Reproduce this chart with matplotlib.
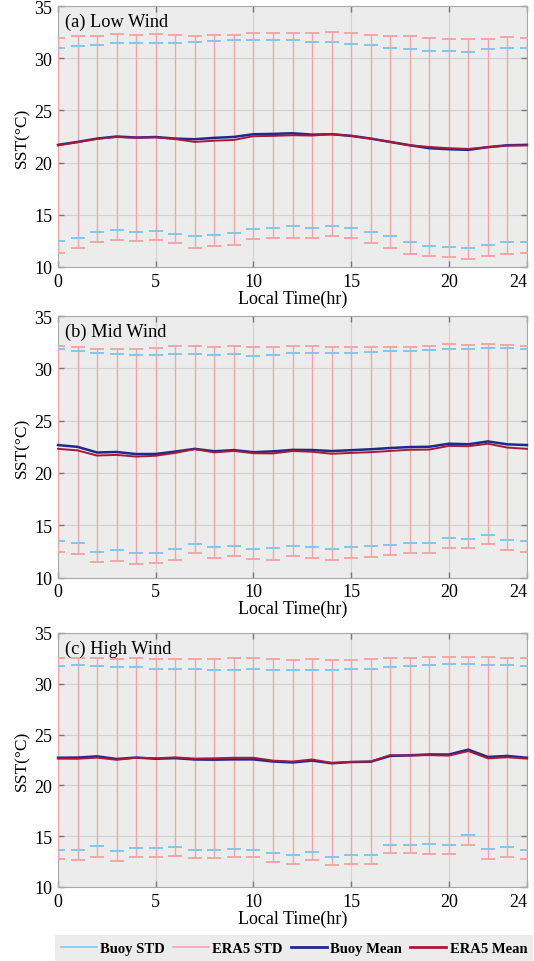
import matplotlib
matplotlib.use("Agg")
import matplotlib.pyplot as plt
from matplotlib.lines import Line2D
from matplotlib.patches import Rectangle

# ---------------- data ----------------
hours = list(range(25))
xticks = [0, 5, 10, 15, 20, 24]
yticks = [10, 15, 20, 25, 30, 35]
panel_titles = ["(a) Low Wind", "(b) Mid Wind", "(c) High Wind"]
legend_labels = ["Buoy STD", "ERA5 STD", "Buoy Mean", "ERA5 Mean"]

low_buoy_mean = [21.70, 21.98, 22.30, 22.50, 22.40, 22.45, 22.30, 22.24, 22.37, 22.46, 22.72, 22.75, 22.81,
                 22.68, 22.72, 22.56, 22.30, 21.98, 21.66, 21.38, 21.28, 21.22, 21.48, 21.66, 21.70]
low_era5_mean = [21.65, 21.95, 22.28, 22.45, 22.38, 22.42, 22.25, 21.98, 22.10, 22.17, 22.53, 22.56, 22.62,
                 22.59, 22.72, 22.56, 22.30, 21.98, 21.66, 21.50, 21.38, 21.31, 21.48, 21.64, 21.65]
low_buoy_std = [9.25, 9.19, 8.99, 8.93, 9.03, 9.00, 9.13, 9.28, 9.27, 9.24, 9.07, 8.99, 8.89,
                8.90, 8.83, 8.83, 8.94, 9.04, 9.24, 9.35, 9.38, 9.42, 9.36, 9.30, 9.29]
low_era5_std = [10.29, 10.16, 9.89, 9.85, 9.89, 9.88, 9.96, 10.18, 10.10, 10.08, 9.89, 9.81, 9.83,
                9.83, 9.77, 9.83, 9.97, 10.13, 10.42, 10.44, 10.47, 10.53, 10.40, 10.36, 10.29]

mid_buoy_mean = [22.66, 22.49, 21.95, 22.00, 21.80, 21.81, 22.04, 22.30, 22.07, 22.18, 21.98, 22.06, 22.20,
                 22.19, 22.09, 22.17, 22.26, 22.38, 22.47, 22.50, 22.79, 22.74, 23.01, 22.73, 22.66]
mid_era5_mean = [22.30, 22.15, 21.66, 21.72, 21.56, 21.64, 21.91, 22.27, 21.96, 22.10, 21.88, 21.86, 22.09,
                 22.02, 21.83, 21.91, 21.98, 22.10, 22.21, 22.23, 22.58, 22.55, 22.79, 22.42, 22.30]
mid_buoy_std = [9.18, 9.20, 9.49, 9.40, 9.44, 9.45, 9.29, 9.07, 9.20, 9.15, 9.23, 9.25, 9.22,
                9.25, 9.34, 9.30, 9.26, 9.25, 9.15, 9.21, 9.05, 9.10, 8.96, 9.18, 9.18]
mid_era5_std = [9.85, 9.92, 10.16, 10.16, 10.25, 10.30, 10.19, 9.88, 10.08, 10.03, 10.12, 10.20, 10.02,
                10.14, 10.17, 10.09, 10.03, 9.96, 9.85, 9.93, 9.74, 9.71, 9.56, 9.83, 9.85]

high_buoy_mean = [22.72, 22.74, 22.86, 22.60, 22.74, 22.62, 22.68, 22.55, 22.53, 22.56, 22.56, 22.35, 22.26,
                  22.44, 22.18, 22.30, 22.33, 22.90, 22.96, 23.05, 23.04, 23.52, 22.80, 22.90, 22.72]
high_era5_mean = [22.63, 22.62, 22.73, 22.52, 22.72, 22.67, 22.76, 22.64, 22.67, 22.72, 22.72, 22.44, 22.35,
                  22.55, 22.22, 22.31, 22.35, 22.98, 22.94, 22.98, 22.93, 23.38, 22.66, 22.77, 22.63]
high_buoy_std = [9.04, 9.07, 8.87, 9.06, 8.87, 8.82, 8.75, 8.87, 8.84, 8.82, 8.88, 9.05, 9.09,
                 8.95, 9.22, 9.15, 9.15, 8.77, 8.84, 8.84, 8.86, 8.45, 9.02, 8.92, 9.04]
high_era5_std = [9.90, 9.92, 9.79, 9.94, 9.80, 9.75, 9.69, 9.82, 9.79, 9.79, 9.79, 9.98, 10.04,
                 9.87, 10.10, 10.08, 10.05, 9.60, 9.64, 9.70, 9.66, 9.28, 9.94, 9.79, 9.90]

panels = [
    (low_buoy_mean, low_buoy_std, low_era5_mean, low_era5_std),
    (mid_buoy_mean, mid_buoy_std, mid_era5_mean, mid_era5_std),
    (high_buoy_mean, high_buoy_std, high_era5_mean, high_era5_std),
]

# ---------------- style ----------------
plt.rcParams['font.family'] = ['Liberation Serif', 'DejaVu Serif']
BUOY_STD_C = '#80c8ee'
ERA5_STD_C = '#f5a5a8'
BUOY_MEAN_C = '#1d2a8c'
ERA5_MEAN_C = '#a8183c'
BG = '#ececec'

W, H = 534, 962
fig = plt.figure(figsize=(W / 100, H / 100), dpi=100)

# axes boxes in pixels: (left, top, right, bottom)
boxes = [(58, 7, 527, 268), (58, 317, 527, 578.5), (58, 634, 527, 888)]

for i, ((bm, bs, em, es), (l, t, r, b)) in enumerate(zip(panels, boxes)):
    ax = fig.add_axes([l / W, 1 - b / H, (r - l) / W, (b - t) / H])
    ax.set_facecolor(BG)
    ax.set_xlim(0, 24)
    ax.set_ylim(10, 35)
    ax.set_xticks(xticks)
    ax.set_yticks(yticks)
    ax.grid(True, color='#d2d2d2', linewidth=0.8, zorder=0)
    ax.set_axisbelow(True)

    eb = ax.errorbar(hours, bm, yerr=bs, fmt='none', ecolor=BUOY_STD_C, elinewidth=1.0,
                     capsize=4.8, capthick=1.4, zorder=4)
    for coll in eb[2]:
        coll.set_visible(False)
    ax.errorbar(hours, em, yerr=es, fmt='none', ecolor=ERA5_STD_C, elinewidth=1.0,
                capsize=4.8, capthick=1.4, zorder=3)
    ax.plot(hours, bm, color=BUOY_MEAN_C, linewidth=1.8, zorder=5, clip_on=False)
    ax.plot(hours, em, color=ERA5_MEAN_C, linewidth=1.4, zorder=6, clip_on=False)

    for sp in ax.spines.values():
        sp.set_color('#a8a8a8')
        sp.set_linewidth(0.8)
    ax.tick_params(direction='in', length=4, width=1.0, color='#777777',
                   top=True, right=True, labelsize=13, pad=4)
    # keep last x tick label inside the figure
    ax.get_xticklabels()[-1].set_horizontalalignment('right')
    ax.text(0.014, 0.975, panel_titles[i], transform=ax.transAxes, ha='left', va='top',
            fontsize=13.2)
    ax.set_xlabel('Local Time(hr)', fontsize=13, labelpad=0)
    ax.set_ylabel('SST(°C)', fontsize=12.5, labelpad=3)

# legend background strip
fig.patches.append(Rectangle((55 / W, 0), 478 / W, 26 / H, transform=fig.transFigure,
                             facecolor=BG, edgecolor='none', zorder=0))
handles = [Line2D([], [], color=BUOY_STD_C, lw=1.2),
           Line2D([], [], color=ERA5_STD_C, lw=1.2),
           Line2D([], [], color=BUOY_MEAN_C, lw=2.0),
           Line2D([], [], color=ERA5_MEAN_C, lw=2.0)]
leg = fig.legend(handles, legend_labels, loc='center', ncol=4,
                 bbox_to_anchor=(294 / W, 1 - 949 / H),
                 prop={'weight': 'bold', 'size': 10.5}, frameon=False,
                 handlelength=2.45, handletextpad=0.25, columnspacing=0.55,
                 borderpad=0.2, borderaxespad=0)

fig.savefig('out.png', dpi=100)
